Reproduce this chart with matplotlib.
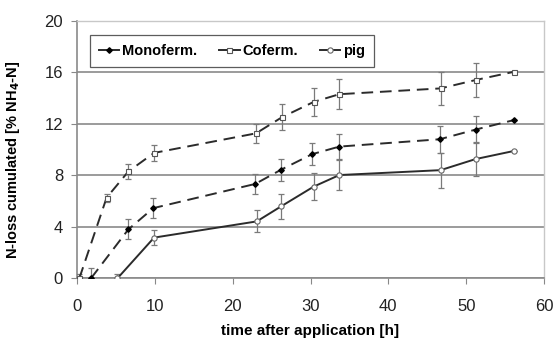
import matplotlib.pyplot as plt

# data
mono_t = [1.8, 6.6, 9.8, 22.9, 26.2, 30.2, 33.7, 46.6, 51.2, 56.2]
mono_y = [0.0, 3.8, 5.45, 7.33, 8.43, 9.64, 10.23, 10.8, 11.55, 12.3]
mono_err = [0.8, 0.78, 0.8, 0.8, 0.85, 0.87, 1.0, 1.03, 1.03, 0.0]

cof_t = [0.3, 3.8, 6.6, 9.9, 23.0, 26.3, 30.4, 33.7, 46.7, 51.2, 56.2]
cof_y = [0.0, 6.26, 8.3, 9.74, 11.26, 12.5, 13.7, 14.3, 14.75, 15.4, 16.05]
cof_err = [0.3, 0.3, 0.6, 0.64, 0.75, 1.0, 1.1, 1.15, 1.26, 1.3, 0.0]

pig_t = [5.2, 9.9, 23.1, 26.2, 30.4, 33.7, 46.7, 51.2, 56.2]
pig_y = [0.0, 3.16, 4.42, 5.58, 7.12, 8.02, 8.4, 9.26, 9.9]
pig_err = [0.3, 0.6, 0.85, 1.0, 1.05, 1.15, 1.35, 1.3, 0.0]

x_ticks = [0, 10, 20, 30, 40, 50, 60]
y_ticks = [0, 4, 8, 12, 16, 20]

plt.rcParams['font.family'] = ['Liberation Sans', 'DejaVu Sans']

fig = plt.figure(figsize=(5.58, 3.47), dpi=100)
ax = fig.add_axes([0.138, 0.198, 0.837, 0.742])

line_col = '#2b2b2b'
err_col = '#7a7a7a'

ax.errorbar(mono_t, mono_y, yerr=mono_err, fmt='none', ecolor=err_col,
            elinewidth=0.9, capsize=2.2, capthick=0.9, zorder=3)
ax.errorbar(cof_t, cof_y, yerr=cof_err, fmt='none', ecolor=err_col,
            elinewidth=0.9, capsize=2.2, capthick=0.9, zorder=3)
ax.errorbar(pig_t, pig_y, yerr=pig_err, fmt='none', ecolor=err_col,
            elinewidth=0.9, capsize=2.2, capthick=0.9, zorder=3)

ax.plot(mono_t, mono_y, color=line_col, lw=1.4, dashes=(6, 3.5),
        marker='D', ms=2.8, mfc='black', mec='black', label='Monoferm.', zorder=4)
ax.plot(cof_t, cof_y, color=line_col, lw=1.4, dashes=(6, 3.5),
        marker='s', ms=3.6, mfc='white', mec='#555555', mew=0.8,
        label='Coferm.', zorder=4)
ax.plot(pig_t, pig_y, color=line_col, lw=1.4, linestyle='-',
        marker='o', ms=3.8, mfc='white', mec='#666666', mew=0.8,
        label='pig', zorder=4)

ax.set_xlim(0, 60)
ax.set_ylim(0, 20)
ax.set_xticks(x_ticks)
ax.set_yticks(y_ticks)
ax.tick_params(axis='both', labelsize=12, length=4, width=0.8,
               direction='out', colors='#888888', labelcolor='#222222')
ax.tick_params(axis='x', pad=11)
ax.tick_params(axis='y', pad=6)

ax.yaxis.grid(True, color='#8a8a8a', lw=1.2)
ax.set_axisbelow(True)

for side in ['top', 'right']:
    ax.spines[side].set_color('#c8c8c8')
    ax.spines[side].set_linewidth(1.0)
for side in ['left', 'bottom']:
    ax.spines[side].set_color('#8a8a8a')
    ax.spines[side].set_linewidth(1.2)

ax.set_xlabel('time after application [h]', fontsize=11, fontweight='bold',
              labelpad=7)
ax.set_ylabel('N-loss cumulated [% NH$_\\mathbf{4}$-N]', fontsize=10.5,
              fontweight='bold', labelpad=6)
ax.yaxis.set_label_coords(-0.118, 0.46)

leg = ax.legend(loc='upper left', bbox_to_anchor=(0.028, 0.944), ncol=3,
                frameon=True, fancybox=False, fontsize=10.5, handlelength=1.4,
                handletextpad=0.2, columnspacing=1.5, borderpad=0.6,
                borderaxespad=0)
leg.get_frame().set_edgecolor('#333333')
leg.get_frame().set_linewidth(0.9)
for t in leg.get_texts():
    t.set_fontweight('bold')
for ln in leg.get_lines():
    ln.set_linestyle('-')

fig.savefig('out.png', dpi=100)
